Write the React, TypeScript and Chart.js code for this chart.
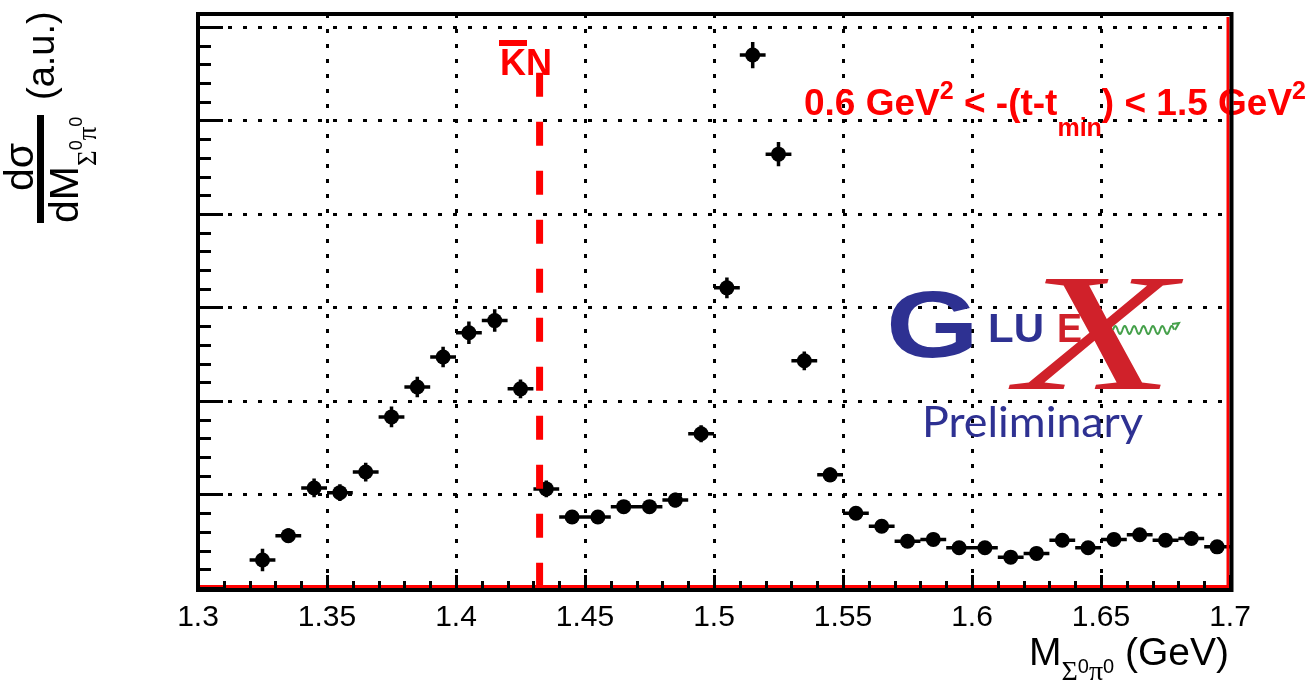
import React, { useEffect, useRef } from "react";
import { Chart, registerables } from "chart.js";

Chart.register(...registerables);

// ---- data ----
const massBins = [
  1.325, 1.335, 1.345, 1.355, 1.365, 1.375, 1.385, 1.395, 1.405, 1.415,
  1.425, 1.435, 1.445, 1.455, 1.465, 1.475, 1.485, 1.495, 1.505, 1.515,
  1.525, 1.535, 1.545, 1.555, 1.565, 1.575, 1.585, 1.595, 1.605, 1.615,
  1.625, 1.635, 1.645, 1.655, 1.665, 1.675, 1.685, 1.695,
];
const crossSection = [
  0.30, 0.56, 1.07, 1.02, 1.24, 1.83, 2.15, 2.47, 2.73, 2.86,
  2.13, 1.06, 0.76, 0.76, 0.87, 0.87, 0.94, 1.65, 3.21, 5.70,
  4.64, 2.43, 1.21, 0.80, 0.66, 0.50, 0.52, 0.43, 0.43, 0.33,
  0.37, 0.51, 0.43, 0.52, 0.57, 0.51, 0.53, 0.44,
];
const crossSectionErr = [
  0.12, 0.08, 0.10, 0.09, 0.10, 0.11, 0.11, 0.11, 0.12, 0.12,
  0.10, 0.09, 0.07, 0.07, 0.07, 0.07, 0.08, 0.09, 0.11, 0.14,
  0.13, 0.10, 0.08, 0.07, 0.07, 0.07, 0.07, 0.07, 0.07, 0.07,
  0.07, 0.07, 0.07, 0.07, 0.07, 0.07, 0.07, 0.07,
];
const binHalfWidth = 0.005;
const xMajorTicks = [1.3, 1.35, 1.4, 1.45, 1.5, 1.55, 1.6, 1.65, 1.7];
const xTickLabels = ["1.3", "1.35", "1.4", "1.45", "1.5", "1.55", "1.6", "1.65", "1.7"];
const xGridValues = [1.35, 1.4, 1.45, 1.5, 1.55, 1.6, 1.65];
const yGridValues = [1, 2, 3, 4, 5, 6];
const kbarNThreshold = 1.4324;
const kbarNLineTop = 5.51;
const X_MIN = 1.3;
const X_MAX = 1.7;
const Y_MIN = 0;
const Y_MAX = 6.139;

const RED = "#ff0000";
const LOGO_BLUE = "#2e3192";
const LOGO_RED = "#d0212a";
const LOGO_GREEN = "#45a04a";
const SANS = '"Liberation Sans", Arial, sans-serif';
const SERIF = '"Liberation Serif", "Times New Roman", serif';

type Seg = { text: string; font: string; dy: number };

function richWidth(ctx: CanvasRenderingContext2D, segs: Seg[]) {
  let w = 0;
  for (const s of segs) {
    ctx.font = s.font;
    w += ctx.measureText(s.text).width;
  }
  return w;
}
function drawRich(ctx: CanvasRenderingContext2D, segs: Seg[], x: number, y: number) {
  ctx.textAlign = "left";
  ctx.textBaseline = "alphabetic";
  for (const s of segs) {
    ctx.font = s.font;
    ctx.fillText(s.text, x, y + s.dy);
    x += ctx.measureText(s.text).width;
  }
  return x;
}
function drawFit(
  ctx: CanvasRenderingContext2D,
  text: string,
  font: string,
  left: number,
  baseline: number,
  width: number
) {
  ctx.save();
  ctx.font = font;
  ctx.textAlign = "left";
  ctx.textBaseline = "alphabetic";
  const w = ctx.measureText(text).width;
  ctx.translate(left, baseline);
  ctx.scale(width / w, 1);
  ctx.fillText(text, 0, 0);
  ctx.restore();
}

const rootStyle = {
  id: "rootStyle",
  beforeDatasetsDraw(chart: any) {
    const { ctx, chartArea: a } = chart;
    const x = chart.scales.x;
    const y = chart.scales.y;
    ctx.save();
    // dotted grid
    ctx.strokeStyle = "#000";
    ctx.lineWidth = 3;
    ctx.setLineDash([4, 11]);
    ctx.beginPath();
    for (const v of xGridValues) {
      const px = Math.round(x.getPixelForValue(v)) + 0.5;
      ctx.moveTo(px, a.top);
      ctx.lineTo(px, a.bottom);
    }
    for (const v of yGridValues) {
      const py = Math.round(y.getPixelForValue(v)) + 0.5;
      ctx.moveTo(a.left, py);
      ctx.lineTo(a.right, py);
    }
    ctx.stroke();
    ctx.setLineDash([]);

    // GlueX logo
    ctx.fillStyle = LOGO_BLUE;
    drawFit(ctx, "G", `bold 94px ${SANS}`, 886, 357, 93);
    drawFit(ctx, "LU", `bold 40px ${SANS}`, 988, 342, 56);
    ctx.fillStyle = LOGO_RED;
    drawFit(ctx, "E", `bold 40px ${SANS}`, 1057, 342, 25);
    drawFit(ctx, "X", `italic 168px ${SERIF}`, 1017, 389, 158);
    // wavy photon line
    ctx.strokeStyle = LOGO_GREEN;
    ctx.lineWidth = 2;
    ctx.beginPath();
    const wx0 = 1113, wx1 = 1174, wy = 330;
    for (let t = 0; t <= wx1 - wx0; t += 0.5) {
      const py = wy - 4 * Math.sin((2 * Math.PI * t) / 9.4);
      if (t === 0) ctx.moveTo(wx0 + t, py);
      else ctx.lineTo(wx0 + t, py);
    }
    ctx.stroke();
    ctx.beginPath();
    ctx.moveTo(1172, 324);
    ctx.lineTo(1179, 323);
    ctx.lineTo(1175, 330);
    ctx.stroke();
    ctx.fillStyle = LOGO_BLUE;
    drawFit(ctx, "Preliminary", `42px Lato, "Open Sans", sans-serif`, 922, 437, 221);

    // error bars
    ctx.strokeStyle = "#000";
    ctx.lineWidth = 3.5;
    ctx.beginPath();
    massBins.forEach((m, i) => {
      const px = x.getPixelForValue(m);
      const py = y.getPixelForValue(crossSection[i]);
      ctx.moveTo(x.getPixelForValue(m - binHalfWidth), py);
      ctx.lineTo(x.getPixelForValue(m + binHalfWidth), py);
      ctx.moveTo(px, y.getPixelForValue(crossSection[i] - crossSectionErr[i]));
      ctx.lineTo(px, y.getPixelForValue(crossSection[i] + crossSectionErr[i]));
    });
    ctx.stroke();
    ctx.restore();
  },
  afterDatasetsDraw(chart: any) {
    const { ctx, chartArea: a } = chart;
    const x = chart.scales.x;
    const y = chart.scales.y;
    ctx.save();

    // K-bar N threshold dashed line
    const kx = x.getPixelForValue(kbarNThreshold);
    ctx.strokeStyle = RED;
    ctx.lineWidth = 7;
    ctx.setLineDash([24, 25]);
    ctx.beginPath();
    ctx.moveTo(kx, y.getPixelForValue(kbarNLineTop));
    ctx.lineTo(kx, a.bottom);
    ctx.stroke();
    ctx.setLineDash([]);

    // K-bar N label
    ctx.fillStyle = RED;
    ctx.font = `bold 36px ${SANS}`;
    ctx.textAlign = "left";
    ctx.textBaseline = "alphabetic";
    ctx.fillText("KN", 500, 75);
    ctx.fillRect(499, 40, 28, 6);

    // t-range text
    const b = `bold 37px ${SANS}`;
    const s = `bold 25px ${SANS}`;
    drawRich(
      ctx,
      [
        { text: "0.6 GeV", font: b, dy: 0 },
        { text: "2", font: s, dy: -16 },
        { text: " < -(t-t", font: b, dy: 0 },
        { text: "min", font: s, dy: 21 },
        { text: ") < 1.5 GeV", font: b, dy: 0 },
        { text: "2", font: s, dy: -16 },
      ],
      804,
      115
    );

    // red zero line / right edge
    ctx.strokeStyle = RED;
    ctx.lineWidth = 3;
    ctx.beginPath();
    ctx.moveTo(a.left, a.bottom - 1.5);
    ctx.lineTo(a.right, a.bottom - 1.5);
    ctx.moveTo(a.right - 2, a.top + 3);
    ctx.lineTo(a.right - 2, a.bottom);
    ctx.stroke();

    // frame
    ctx.strokeStyle = "#000";
    ctx.lineWidth = 4;
    ctx.strokeRect(a.left, a.top, a.right - a.left + 1.5, a.bottom - a.top + 2);

    // ticks
    ctx.lineWidth = 3;
    ctx.beginPath();
    for (let i = 0; i <= 40; i++) {
      const v = X_MIN + i * 0.01;
      const px = Math.round(x.getPixelForValue(v)) + 0.5;
      const len = i % 5 === 0 ? 13 : 7;
      ctx.moveTo(px, a.bottom);
      ctx.lineTo(px, a.bottom - len);
    }
    for (let i = 0; i <= 30; i++) {
      const v = Y_MIN + i * 0.2;
      const py = Math.round(y.getPixelForValue(v)) + 0.5;
      const len = i % 5 === 0 ? 25 : 13;
      ctx.moveTo(a.left, py);
      ctx.lineTo(a.left + len, py);
    }
    ctx.stroke();

    // tick labels
    ctx.fillStyle = "#000";
    ctx.font = `30px ${SANS}`;
    ctx.textAlign = "center";
    ctx.textBaseline = "alphabetic";
    xMajorTicks.forEach((v, i) => {
      ctx.fillText(xTickLabels[i], x.getPixelForValue(v), 626);
    });

    // x title
    const big = `39px ${SANS}`;
    const sub = `28px ${SERIF}`;
    const sup = `20px ${SANS}`;
    const xt: Seg[] = [
      { text: "M", font: big, dy: 0 },
      { text: "Σ", font: sub, dy: 15 },
      { text: "0", font: sup, dy: 8 },
      { text: "π", font: sub, dy: 15 },
      { text: "0", font: sup, dy: 8 },
      { text: " (GeV)", font: big, dy: 0 },
    ];
    drawRich(ctx, xt, 1229 - richWidth(ctx, xt), 665);

    // y title (rotated)
    ctx.save();
    ctx.rotate(-Math.PI / 2);
    ctx.font = `38px ${SANS}`;
    ctx.textAlign = "left";
    ctx.fillText("(a.u.)", -100, 54);
    ctx.font = `41px ${SANS}`;
    ctx.textAlign = "center";
    ctx.fillText("dσ", -167, 33);
    const yt: Seg[] = [
      { text: "dM", font: `41px ${SANS}`, dy: 0 },
      { text: "Σ", font: `27px ${SERIF}`, dy: 18 },
      { text: "0", font: `18px ${SANS}`, dy: 4 },
      { text: "π", font: `27px ${SERIF}`, dy: 18 },
      { text: "0", font: `18px ${SANS}`, dy: 4 },
    ];
    drawRich(ctx, yt, -223, 78);
    ctx.restore();
    ctx.fillRect(37, 115, 7, 108);

    ctx.restore();
  },
};

export default function App() {
  const canvasRef = useRef<HTMLCanvasElement | null>(null);

  useEffect(() => {
    const canvas = canvasRef.current;
    if (!canvas) return;
    const chart = new Chart(canvas, {
      type: "scatter",
      data: {
        datasets: [
          {
            label: "data",
            data: massBins.map((m, i) => ({ x: m, y: crossSection[i] })),
            pointRadius: 7.5,
            pointHoverRadius: 7.5,
            pointBackgroundColor: "#000",
            pointBorderWidth: 0,
            borderColor: "#000",
            showLine: false,
          },
        ],
      },
      options: {
        responsive: false,
        maintainAspectRatio: false,
        animation: false,
        devicePixelRatio: 1,
        events: [],
        layout: { padding: { left: 198, right: 82, top: 14, bottom: 95 } },
        scales: {
          x: { type: "linear", min: X_MIN, max: X_MAX, display: false },
          y: { type: "linear", min: Y_MIN, max: Y_MAX, display: false },
        },
        plugins: { legend: { display: false }, tooltip: { enabled: false } },
      },
      plugins: [rootStyle],
    });
    return () => chart.destroy();
  }, []);

  return (
    <div
      style={{
        position: "fixed",
        left: 0,
        top: 0,
        width: 1312,
        height: 683,
        background: "#fff",
      }}
    >
      <canvas
        ref={canvasRef}
        width={1312}
        height={683}
        style={{ display: "block", width: 1312, height: 683 }}
      />
    </div>
  );
}
